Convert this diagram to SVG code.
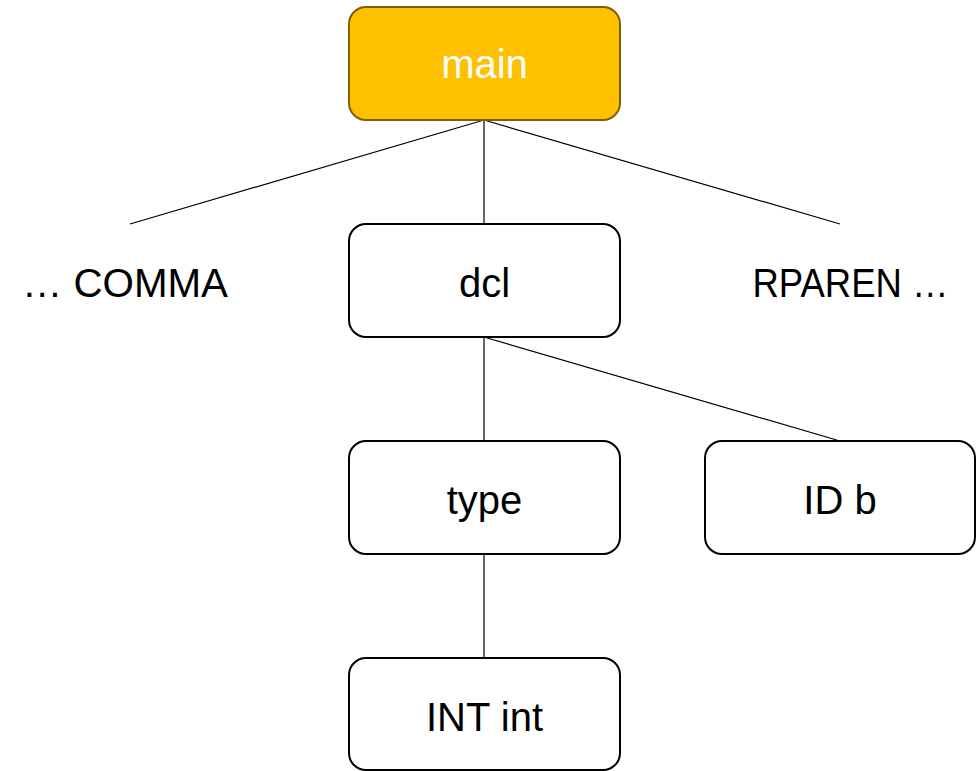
<svg xmlns="http://www.w3.org/2000/svg" width="976" height="771" viewBox="0 0 976 771">
<style>
.box{fill:#ffffff;stroke:#000000;stroke-width:2}
.main{fill:#FFC000;stroke:#7F6000;stroke-width:2}
.t{font-family:"Liberation Sans",Arial,sans-serif;font-size:40px;text-anchor:middle;fill:#000000}
.tw{fill:#ffffff}
.edge{stroke:#000000;stroke-width:1.2;fill:none}
</style>
<g id="connectors">
<line class="edge" x1="484" y1="120" x2="130" y2="224"/>
<line class="edge" x1="484" y1="120" x2="484" y2="224"/>
<line class="edge" x1="484" y1="120" x2="840" y2="224"/>
<line class="edge" x1="484" y1="337" x2="484" y2="441"/>
<line class="edge" x1="484" y1="337" x2="840" y2="441"/>
<line class="edge" x1="484" y1="554" x2="484" y2="658"/>
</g>
<g id="node-main">
<rect class="main" x="349" y="7" width="271" height="113" rx="17"/>
<text class="t tw" x="484.5" y="78">main</text>
</g>
<g id="node-comma">
<text class="t" x="125" y="297" textLength="206" lengthAdjust="spacingAndGlyphs">… COMMA</text>
</g>
<g id="node-dcl">
<rect class="box" x="349" y="224" width="271" height="113" rx="17"/>
<text class="t" x="484.5" y="297">dcl</text>
</g>
<g id="node-rparen">
<text class="t" x="850.5" y="297" textLength="196" lengthAdjust="spacingAndGlyphs">RPAREN …</text>
</g>
<g id="node-type">
<rect class="box" x="349" y="441" width="271" height="113" rx="17"/>
<text class="t" x="484.5" y="514">type</text>
</g>
<g id="node-idb">
<rect class="box" x="705" y="441" width="270" height="113" rx="17"/>
<text class="t" x="840" y="514">ID b</text>
</g>
<g id="node-int">
<rect class="box" x="349" y="658" width="271" height="112" rx="17"/>
<text class="t" x="484.5" y="731">INT int</text>
</g>
</svg>
